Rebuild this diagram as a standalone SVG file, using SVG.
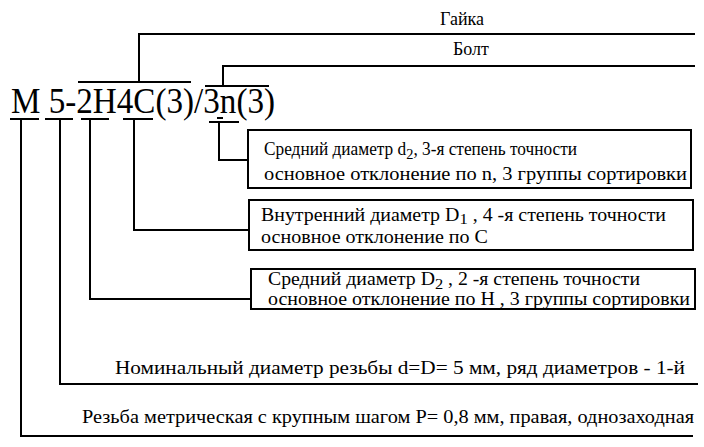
<svg xmlns="http://www.w3.org/2000/svg" width="704" height="447" viewBox="0 0 704 447">
<style>
  .ln{stroke:#000;stroke-width:2;fill:none}
  .box{stroke:#000;stroke-width:2;fill:#fff}
  .t{font-size:18px}
  .sub{font-size:15px}
  .big{font-size:36px}
</style>
<rect width="704" height="447" fill="#fff"/>
<g id="connectors">
  <path class="ln" d="M78 82H191M139 82V34H695"/>
  <path class="ln" d="M205 86H269M223 86V66H695"/>
  <path class="ln" d="M10 119H39M21 119V436H693"/>
  <path class="ln" d="M45 119H73M60 119V384H698"/>
  <path class="ln" d="M81 119H109M90 119V299H251"/>
  <path class="ln" d="M123 119H153M134 119V230H249"/>
  <path class="ln" d="M217 118H223M209 122H239M219 122V160H248"/>
</g>
<g font-family="'Liberation Serif', 'DejaVu Serif', 'Times New Roman', serif" fill="#000">
<g id="notation">
  <text class="big" x="11" y="113" textLength="264" lengthAdjust="spacingAndGlyphs">M 5-2H4C(3)/3n(3)</text>
</g>
<g id="gayka"><text class="t" x="440" y="25">Гайка</text></g>
<g id="bolt"><text class="t" x="453" y="55">Болт</text></g>
<g id="box1">
  <rect class="box" x="248" y="130" width="443" height="58"/>
  <text class="t" x="264" y="155" textLength="313" lengthAdjust="spacingAndGlyphs">Средний диаметр d<tspan class="sub" dy="4">2</tspan><tspan dy="-4">, 3-я степень точности</tspan></text>
  <text class="t" x="264" y="180" textLength="423" lengthAdjust="spacingAndGlyphs">основное отклонение по n, 3 группы сортировки</text>
</g>
<g id="box2">
  <rect class="box" x="249" y="200" width="444" height="50"/>
  <text class="t" x="261" y="221" textLength="405" lengthAdjust="spacingAndGlyphs">Внутренний диаметр D<tspan class="sub" dy="3">1</tspan><tspan dy="-3"> , 4 -я степень точности</tspan></text>
  <text class="t" x="261" y="243" textLength="227" lengthAdjust="spacingAndGlyphs">основное отклонение по С</text>
</g>
<g id="box3">
  <rect class="box" x="251" y="269" width="444" height="40"/>
  <text class="t" x="268" y="285" textLength="372" lengthAdjust="spacingAndGlyphs">Средний диаметр D<tspan class="sub" dy="4">2</tspan><tspan dy="-4"> , 2 -я степень точности</tspan></text>
  <text class="t" x="268" y="305" textLength="422" lengthAdjust="spacingAndGlyphs">основное отклонение по H , 3 группы сортировки</text>
</g>
<g id="nominal">
  <text class="t" x="115" y="374" textLength="570" lengthAdjust="spacingAndGlyphs">Номинальный диаметр резьбы d=D= 5 мм, ряд диаметров - 1-й</text>
</g>
<g id="rezba">
  <text class="t" x="82" y="423" textLength="612" lengthAdjust="spacingAndGlyphs">Резьба метрическая с крупным шагом Р= 0,8 мм, правая, однозаходная</text>
</g>
</g>
</svg>
